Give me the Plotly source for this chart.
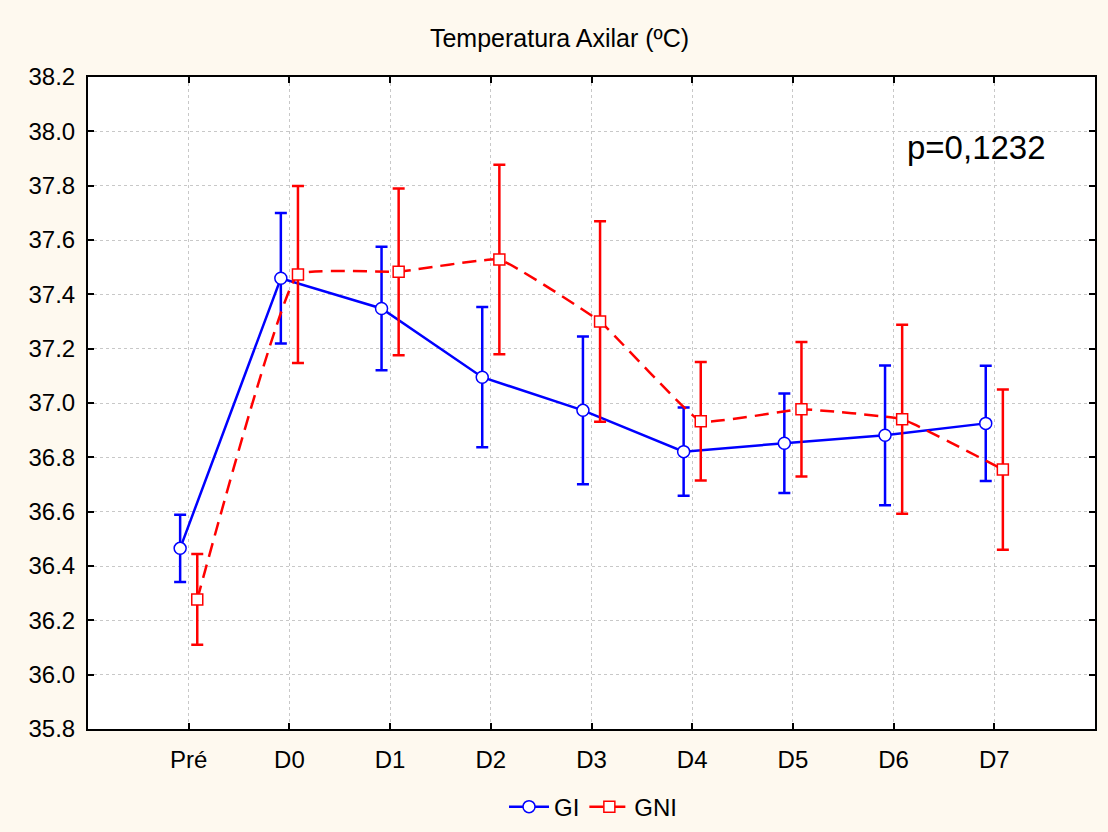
import plotly.graph_objects as go

# Study days and the mean axillary temperature (°C) with error half-widths per group
categories = ["Pré", "D0", "D1", "D2", "D3", "D4", "D5", "D6", "D7"]
gi_mean = [36.465, 37.459, 37.348, 37.095, 36.973, 36.821, 36.852, 36.881, 36.925]
gi_err = [0.124, 0.240, 0.227, 0.258, 0.272, 0.162, 0.183, 0.257, 0.212]
gni_mean = [36.277, 37.473, 37.483, 37.528, 37.300, 36.933, 36.977, 36.940, 36.755]
gni_err = [0.167, 0.326, 0.307, 0.349, 0.369, 0.218, 0.248, 0.348, 0.295]
y_ticks = [35.8, 36.0, 36.2, 36.4, 36.6, 36.8, 37.0, 37.2, 37.4, 37.6, 37.8, 38.0, 38.2]

FONT = "Liberation Sans, Arial, sans-serif"
BLUE = "#0000ff"
RED = "#ff0000"

# small horizontal offset so the two groups' bars do not overlap
pos = list(range(len(categories)))
x_gi = [p - 0.085 for p in pos]
x_gni = [p + 0.085 for p in pos]

fig = go.Figure()

fig.add_trace(go.Scatter(
    x=x_gi, y=gi_mean, name="GI", mode="lines+markers",
    line=dict(color=BLUE, width=2.5),
    marker=dict(symbol="circle", size=12, color="white",
                line=dict(color=BLUE, width=1.5)),
    error_y=dict(type="data", array=gi_err, visible=True,
                 color=BLUE, thickness=2.5, width=6),
))

fig.add_trace(go.Scatter(
    x=x_gni, y=gni_mean, name="GNI", mode="lines+markers",
    line=dict(color=RED, width=2.5, dash="14px,8px", shape="spline", smoothing=0.3),
    marker=dict(symbol="square", size=11, color="white",
                line=dict(color=RED, width=1.5)),
    error_y=dict(type="data", array=gni_err, visible=True,
                 color=RED, thickness=2.5, width=6),
))

fig.add_annotation(
    x=0.882, y=0.8925, xref="paper", yref="paper",
    text="p=0,1232", showarrow=False,
    font=dict(family=FONT, size=33, color="black"),
    xanchor="center", yanchor="middle",
)

fig.update_layout(
    width=1108, height=832,
    paper_bgcolor="#fef9ef",
    plot_bgcolor="white",
    margin=dict(l=88, r=13, t=77, b=103, autoexpand=False),
    font=dict(family=FONT, size=24, color="black"),
    title=dict(text="Temperatura Axilar (ºC)", x=0.505, xanchor="center",
               y=0.954, yanchor="middle",
               font=dict(family=FONT, size=25, color="black")),
    showlegend=True,
    legend=dict(orientation="h", x=0.502, xanchor="center",
                yref="container", y=0.030, yanchor="middle",
                bgcolor="rgba(0,0,0,0)", font=dict(family=FONT, size=24),
                itemwidth=40),
)

fig.update_xaxes(
    range=[-1, 9], tickmode="array", tickvals=pos, ticktext=categories,
    showline=True, linecolor="black", linewidth=2, mirror="ticks",
    ticks="inside", ticklen=6, tickwidth=2, tickcolor="black",
    showgrid=True, gridcolor="#c8c8c8", gridwidth=1, griddash="dot",
    zeroline=False, tickfont=dict(family=FONT, size=24), ticklabelstandoff=8,
)
fig.update_yaxes(
    range=[35.8, 38.2], tickmode="array", tickvals=y_ticks,
    ticktext=[f"{v:.1f}" for v in y_ticks],
    showline=True, linecolor="black", linewidth=2, mirror="ticks",
    ticks="inside", ticklen=6, tickwidth=2, tickcolor="black",
    showgrid=True, gridcolor="#c8c8c8", gridwidth=1, griddash="dot",
    zeroline=False, tickfont=dict(family=FONT, size=24), ticklabelstandoff=6,
)

fig.write_html("out.html")
